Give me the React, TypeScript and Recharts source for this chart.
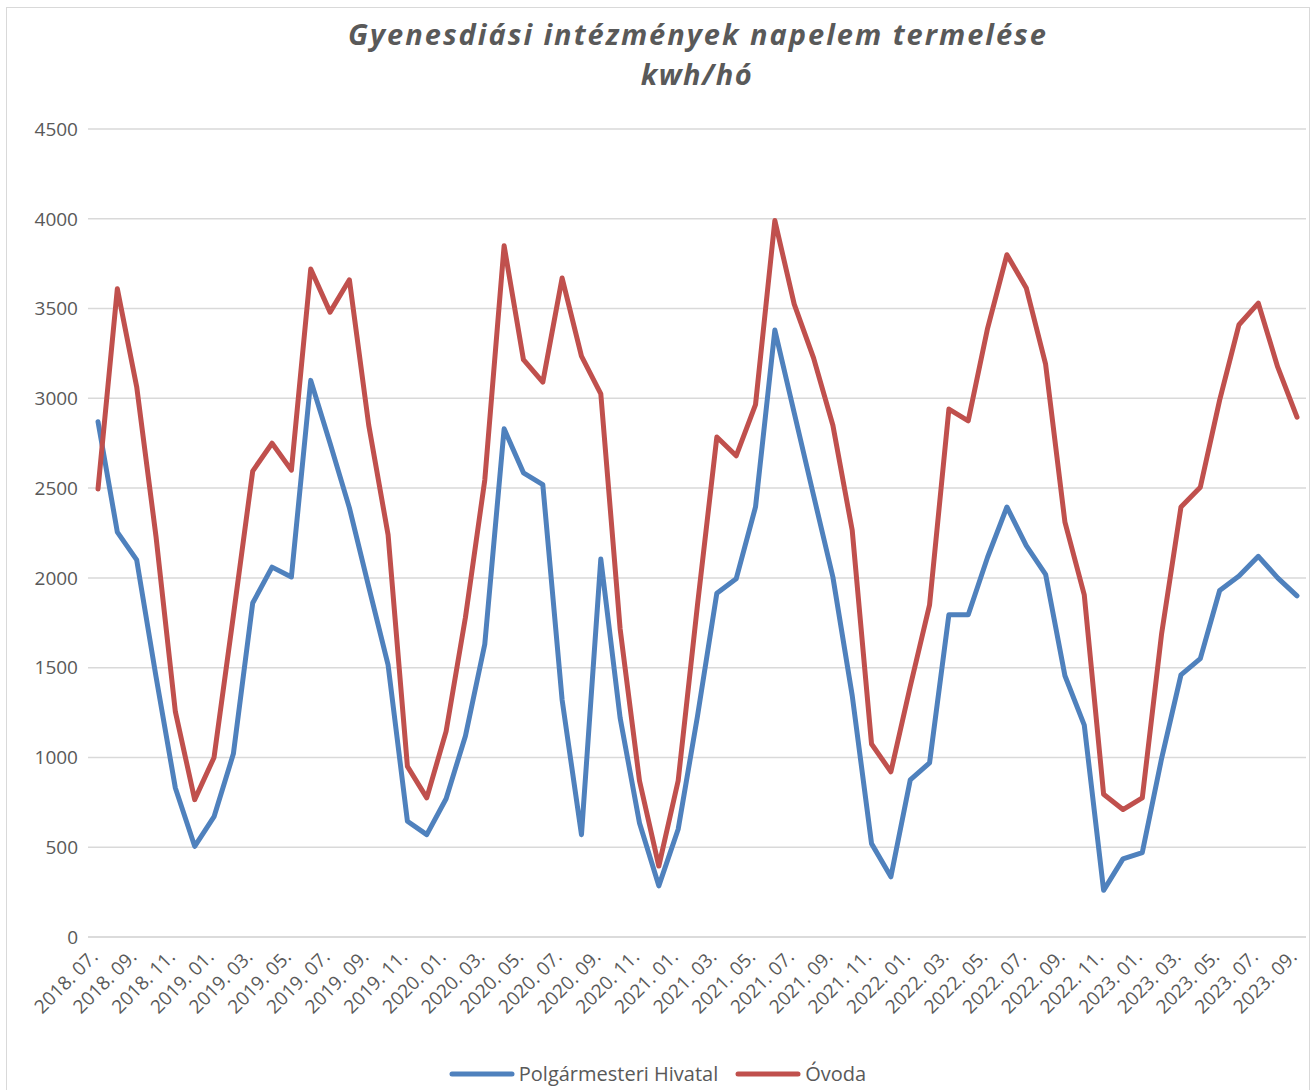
import { LineChart, Line, XAxis, YAxis, CartesianGrid } from "recharts";

const MONTHS = [
  "2018. 07.", "2018. 08.", "2018. 09.", "2018. 10.", "2018. 11.", "2018. 12.",
  "2019. 01.", "2019. 02.", "2019. 03.", "2019. 04.", "2019. 05.", "2019. 06.",
  "2019. 07.", "2019. 08.", "2019. 09.", "2019. 10.", "2019. 11.", "2019. 12.",
  "2020. 01.", "2020. 02.", "2020. 03.", "2020. 04.", "2020. 05.", "2020. 06.",
  "2020. 07.", "2020. 08.", "2020. 09.", "2020. 10.", "2020. 11.", "2020. 12.",
  "2021. 01.", "2021. 02.", "2021. 03.", "2021. 04.", "2021. 05.", "2021. 06.",
  "2021. 07.", "2021. 08.", "2021. 09.", "2021. 10.", "2021. 11.", "2021. 12.",
  "2022. 01.", "2022. 02.", "2022. 03.", "2022. 04.", "2022. 05.", "2022. 06.",
  "2022. 07.", "2022. 08.", "2022. 09.", "2022. 10.", "2022. 11.", "2022. 12.",
  "2023. 01.", "2023. 02.", "2023. 03.", "2023. 04.", "2023. 05.", "2023. 06.",
  "2023. 07.", "2023. 08.", "2023. 09.",
];

// Polgármesteri Hivatal, kWh / month
const HIVATAL = [
  2870, 2255, 2100, 1450, 830, 505,
  670, 1020, 1860, 2060, 2005, 3100,
  2750, 2390, 1950, 1515, 645, 570,
  770, 1120, 1630, 2830, 2585, 2520,
  1320, 570, 2105, 1220, 635, 285,
  600, 1230, 1915, 1995, 2395, 3380,
  2920, 2460, 2005, 1345, 520, 335,
  875, 970, 1795, 1795, 2115, 2395,
  2180, 2020, 1455, 1180, 260, 435,
  470, 995, 1460, 1550, 1930, 2010,
  2120, 2000, 1900,
];

// Óvoda, kWh / month
const OVODA = [
  2495, 3610, 3065, 2230, 1255, 765,
  1000, 1790, 2595, 2750, 2600, 3720,
  3480, 3660, 2850, 2240, 950, 775,
  1145, 1780, 2545, 3850, 3215, 3090,
  3670, 3235, 3025, 1715, 870, 395,
  870, 1850, 2785, 2680, 2965, 3990,
  3525, 3225, 2850, 2265, 1075, 920,
  1395, 1850, 2940, 2875, 3390, 3800,
  3615, 3190, 2310, 1905, 795, 710,
  775, 1690, 2395, 2505, 2990, 3410,
  3530, 3175, 2895,
];

const Y_TICKS = [0, 500, 1000, 1500, 2000, 2500, 3000, 3500, 4000, 4500];

const SERIES = [
  { key: "hivatal", name: "Polgármesteri Hivatal", color: "#4f81bd" },
  { key: "ovoda", name: "Óvoda", color: "#c0504d" },
];

const TEXT = "#595959";
const GRID = "#d9d9d9";
const FONT = "'Open Sans', sans-serif";

const data = MONTHS.map((month, i) => ({
  month,
  hivatal: HIVATAL[i],
  ovoda: OVODA[i],
}));

function MonthTick({ x, y, payload }: any) {
  return (
    <g transform={`translate(${x + 1},${y + 21})`}>
      <text
        textAnchor="end"
        transform="rotate(-45)"
        fill={TEXT}
        fontSize={19}
        fontFamily={FONT}
      >
        {payload.value}
      </text>
    </g>
  );
}

export default function App() {
  return (
    <div
      style={{
        position: "absolute",
        left: 0,
        top: 0,
        width: 1314,
        height: 1090,
        background: "#fff",
        overflow: "hidden",
        fontFamily: FONT,
      }}
    >
      {/* chart area border */}
      <div
        style={{
          position: "absolute",
          left: 6,
          top: 7,
          width: 1302,
          height: 1100,
          border: `1.5px solid ${GRID}`,
        }}
      />
      <svg
        width={1314}
        height={100}
        style={{ position: "absolute", left: 0, top: 0 }}
      >
        <text
          x={697}
          y={45}
          textAnchor="middle"
          fill={TEXT}
          fontSize={29}
          fontWeight="bold"
          fontStyle="italic"
          fontFamily={FONT}
          textLength={698}
          lengthAdjust="spacing"
        >
          Gyenesdiási intézmények napelem termelése
        </text>
        <text
          x={697}
          y={85}
          textAnchor="middle"
          fill={TEXT}
          fontSize={29}
          fontWeight="bold"
          fontStyle="italic"
          fontFamily={FONT}
          letterSpacing={1.5}
        >
          kwh/hó
        </text>
      </svg>
      <div style={{ position: "absolute", left: 0, top: 0 }}>
        <LineChart
          width={1314}
          height={1090}
          data={data}
          margin={{ top: 129, right: 8, bottom: 123, left: 0 }}
        >
          <CartesianGrid vertical={false} stroke={GRID} strokeWidth={1.5} />
          <XAxis
            dataKey="month"
            interval={1}
            tickSize={0}
            tickMargin={0}
            tickLine={false}
            axisLine={{ stroke: GRID, strokeWidth: 1.5 }}
            padding={{ left: 10, right: 9 }}
            tick={<MonthTick />}
          />
          <YAxis
            width={88}
            domain={[0, 4500]}
            ticks={Y_TICKS}
            interval={0}
            tickSize={0}
            tickMargin={10}
            axisLine={false}
            tickLine={false}
            tick={{ fill: TEXT, fontSize: 19, fontFamily: FONT }}
          />
          {SERIES.map((s) => (
            <Line
              key={s.key}
              type="linear"
              dataKey={s.key}
              name={s.name}
              stroke={s.color}
              strokeWidth={5}
              strokeLinejoin="round"
              strokeLinecap="round"
              dot={false}
              activeDot={false}
              isAnimationActive={false}
            />
          ))}
        </LineChart>
      </div>
      {/* legend */}
      <div
        style={{
          position: "absolute",
          left: 0,
          top: 1060,
          width: 1314,
          display: "flex",
          justifyContent: "center",
          alignItems: "center",
          fontSize: 20,
          color: TEXT,
          lineHeight: "28px",
        }}
      >
        {SERIES.map((s) => (
          <div
            key={s.key}
            style={{ display: "flex", alignItems: "center", margin: "0 8px" }}
          >
            <svg width={68} height={8}>
              <line
                x1={4}
                y1={4}
                x2={64}
                y2={4}
                stroke={s.color}
                strokeWidth={5}
                strokeLinecap="round"
              />
            </svg>
            <span style={{ marginLeft: 3 }}>{s.name}</span>
          </div>
        ))}
      </div>
    </div>
  );
}
